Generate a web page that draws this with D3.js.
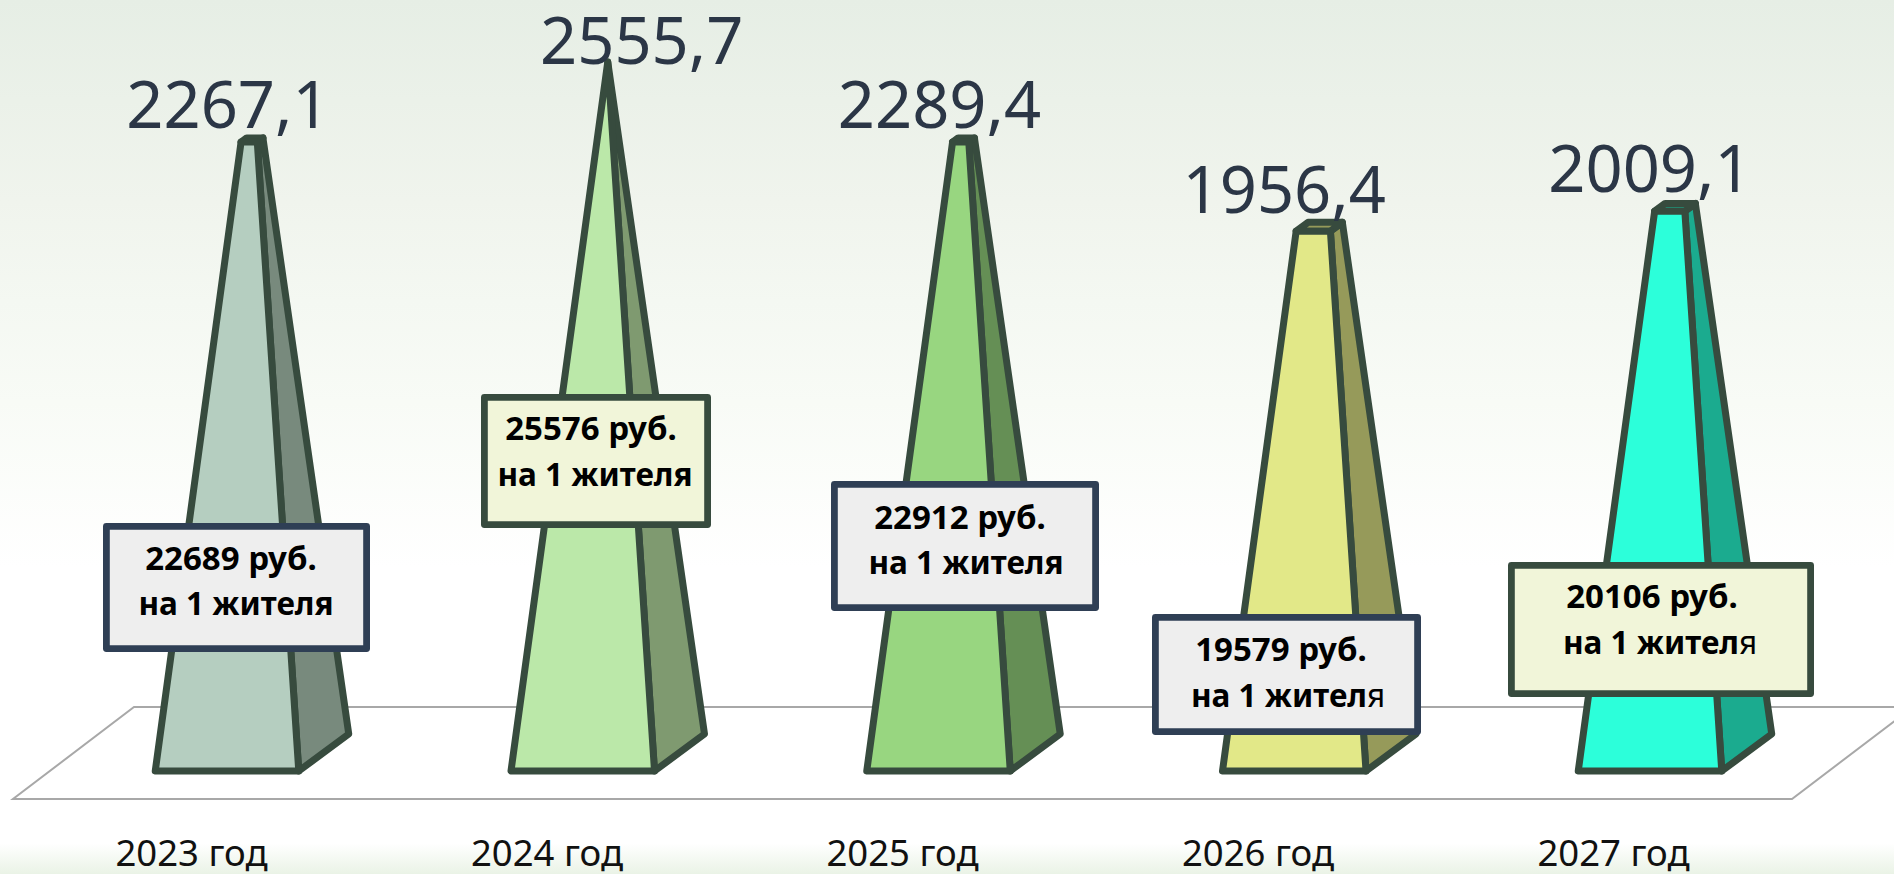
<!DOCTYPE html>
<html><head><meta charset="utf-8">
<style>html,body{margin:0;padding:0;width:1894px;height:874px;overflow:hidden;background:#fff}svg{display:block}</style>
<script src="https://cdn.jsdelivr.net/npm/d3@7"></script>
</head><body><svg id="c" width="1894" height="874"></svg>
<script>
const categories = ["2023 год","2024 год","2025 год","2026 год","2027 год"];
const valueLabels = ["2267,1","2555,7","2289,4","1956,4","2009,1"];
// bar heights as they are pictured, on the same scale as the printed figures
const values = [2267.1,2555.7,2267,1946,2018];
const perResident = [22689,25576,22912,19579,20106];
const perResidentUnit = "руб.";
const perResidentLine2 = "на 1 жителя";

const frontFills = ["#b5cec0","#bbe8a9","#98d680","#e2e888","#2cffda"];
const sideFills  = ["#788a7d","#7f9a70","#658f55","#969a5a","#1bab8f"];
const boxLayout = [
 {x0:103,x1:370,y0:523,y1:652,s:"#2f3f55",f:"#eeeeee",dx:[231,236],b:[570,615],thin:false},
 {x0:481,x1:711,y0:394,y1:528,s:"#374b3e",f:"#f1f5d9",dx:[591,595],b:[440,486],thin:false},
 {x0:831,x1:1099,y0:481,y1:611,s:"#2f3f55",f:"#eeeeee",dx:[960,966],b:[529,574],thin:false},
 {x0:1152,x1:1421,y0:614,y1:735,s:"#2f3f55",f:"#eeeeee",dx:[1281,1288],b:[661,707],thin:true},
 {x0:1508,x1:1814,y0:562,y1:697,s:"#374b3e",f:"#f1f5d9",dx:[1652,1660],b:[608,654],thin:true}
];
const labelOffsets = [{dx:1,dy:-14},{dx:59,dy:2},{dx:1,dy:-14},{dx:-10,dy:-18},{dx:0,dy:-19}];

const svg = d3.select("#c");
const defs = svg.append("defs");
const bg = defs.append("linearGradient").attr("id","bg").attr("x1",0).attr("y1",0).attr("x2",0).attr("y2",1);
[[0,"#e6eee5"],[0.115,"#ebf1e9"],[0.23,"#f0f4ed"],[0.345,"#f4f8f2"],[0.46,"#f8fbf6"],[0.65,"#ffffff"],[0.965,"#ffffff"],[1,"#eaf3e6"]]
 .forEach(([o,c])=>bg.append("stop").attr("offset",o).attr("stop-color",c));
svg.append("rect").attr("width",1894).attr("height",874).attr("fill","url(#bg)");

// floor
const floor = svg.append("g");
floor.append("path").attr("d",d3.line()([[13,799],[134,707],[1913,707],[1792,799]])+"Z").attr("fill","#fff").attr("stroke","none");
floor.append("path").attr("d",d3.line()([[1913,707],[134,707],[13,799],[1792,799],[1913,707]])).attr("fill","none").attr("stroke","#a8a8a8").attr("stroke-width",2);

// scales
const x = d3.scalePoint().domain(categories).range([227,1650]);
const y = d3.scaleLinear().domain([0,d3.max(values)]).range([771,62]);
const baseHalf = 71.75, depthX = 50, depthY = 37;
const t = d3.scaleLinear().domain([0,d3.max(values)]).range([0,1]);
const INK = "#374b3e";

function geom(cat,v){
  const cx = x(cat), k = t(v);
  const apex = [cx+depthX/2, y.range()[1]];
  const base = {fl:[cx-baseHalf,771],fr:[cx+baseHalf,771],br:[cx+baseHalf+depthX,771-depthY],bl:[cx-baseHalf+depthX,771-depthY]};
  const up = p => [p[0]+(apex[0]-p[0])*k, p[1]+(apex[1]-p[1])*k];
  return {base, top:{fl:up(base.fl),fr:up(base.fr),br:up(base.br),bl:up(base.bl)}};
}
const bars = svg.append("g").selectAll("g").data(categories).join("g");
bars.each(function(cat,i){
  const g = d3.select(this), c = geom(cat,values[i]), line = d3.line();
  const style = s => s.attr("stroke",INK).attr("stroke-width",7).attr("stroke-linejoin","round");
  g.append("path").attr("d",line([c.base.fr,c.base.br,c.top.br,c.top.fr])+"Z").attr("fill",sideFills[i]).call(style);
  g.append("path").attr("d",line([c.top.fl,c.top.fr,c.top.br,c.top.bl])+"Z").attr("fill",sideFills[i]).call(style);
  g.append("path").attr("d",line([c.base.fl,c.base.fr,c.top.fr,c.top.fl])+"Z").attr("fill",frontFills[i]).call(style);
});

// value labels
const FONT = "'Noto Sans'";
const fit = (sel,f)=>sel.each(function(){const w=this.getComputedTextLength();d3.select(this).attr("textLength",w*f).attr("lengthAdjust","spacingAndGlyphs");});
svg.append("g").selectAll("text").data(valueLabels).join("text")
  .attr("x",(d,i)=>x(categories[i])+labelOffsets[i].dx)
  .attr("y",(d,i)=>y(values[i])+labelOffsets[i].dy)
  .attr("text-anchor","middle").attr("font-family",FONT).attr("font-size",65).attr("fill","#2b3646")
  .text(d=>d);

// per resident boxes
const boxes = svg.append("g").selectAll("g").data(perResident).join("g");
boxes.each(function(v,i){
  const g=d3.select(this), b=boxLayout[i];
  g.append("rect").attr("x",b.x0+3.4).attr("y",b.y0+3.4).attr("width",b.x1-b.x0-6.8).attr("height",b.y1-b.y0-6.8)
    .attr("fill",b.f).attr("stroke",b.s).attr("stroke-width",6.8).attr("stroke-linejoin","round");
  const tf = s=>s.attr("text-anchor","middle").attr("font-family",FONT).attr("font-weight","bold").attr("font-size",33).attr("fill","#000");
  g.append("text").attr("x",b.dx[0]).attr("y",b.b[0]).call(tf).text(v+" "+perResidentUnit);
  const l2 = g.append("text").attr("x",b.dx[1]).attr("y",b.b[1]).call(tf);
  if(b.thin){
    l2.append("tspan").text(perResidentLine2.slice(0,-1));
    l2.append("tspan").attr("font-weight","normal").text(perResidentLine2.slice(-1));
  } else l2.text(perResidentLine2);
  l2.call(fit,0.955);
});

// category axis
const xAxisScale = x.copy().range([191,1613]);
const axis = svg.append("g").attr("transform","translate(0,866)")
  .call(d3.axisBottom(xAxisScale).tickSize(0).tickPadding(0));
axis.select(".domain").remove();
axis.selectAll("text").attr("y",0).attr("dy",0).attr("font-family",FONT).attr("font-size",36.5).attr("fill","#111");
</script></body></html>
